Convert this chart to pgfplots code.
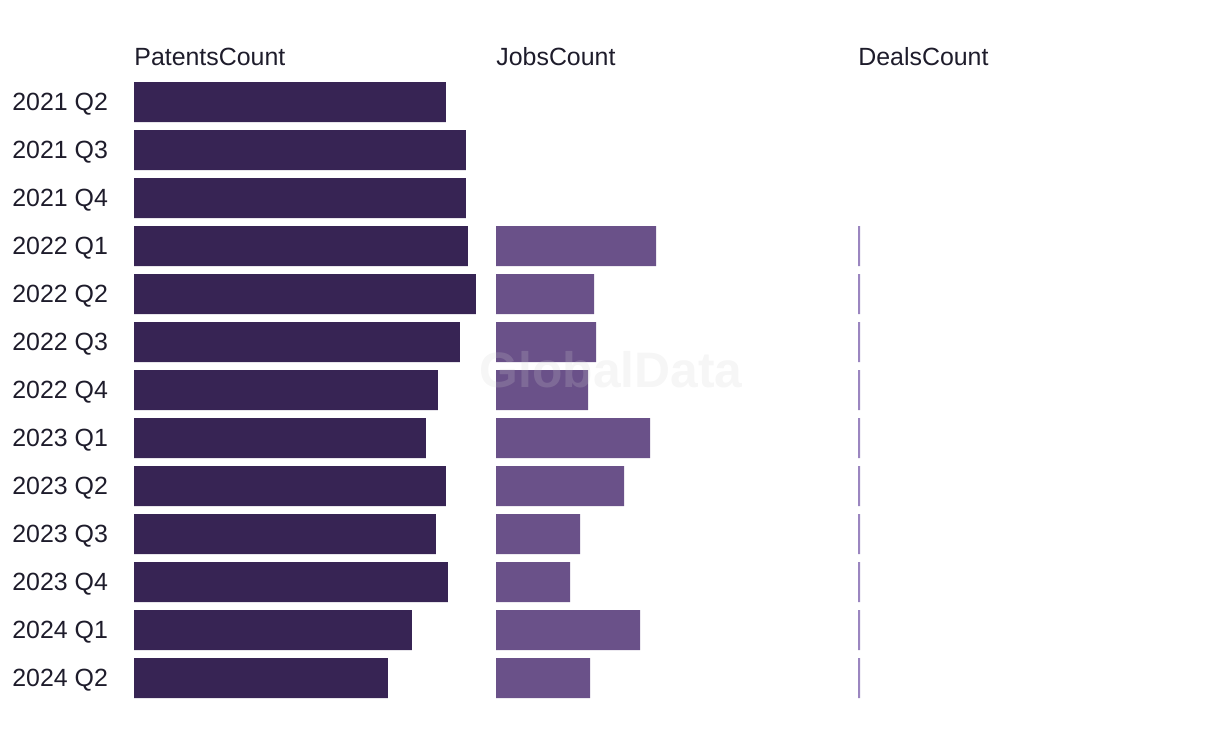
\documentclass[border=0pt]{standalone}
\usepackage{fontspec}
\setmainfont{Liberation Sans}
\usepackage{pgfplots}
\usepackage{pgfplotstable}
\pgfplotsset{compat=1.18}
\definecolor{pat}{HTML}{372454}
\definecolor{job}{HTML}{6A5189}
\definecolor{deal}{HTML}{9B86C0}
\definecolor{txt}{HTML}{1E1C2B}
\definecolor{wm}{HTML}{D0D0D0}

\pgfplotstableread{
q v
0 312
1 332
2 332
3 334
4 342
5 326
6 304
7 292
8 312
9 302
10 314
11 278
12 254
}\patents

\pgfplotstableread{
q v
3 160
4 98
5 100
6 92
7 154
8 128
9 84
10 74
11 144
12 94
}\jobs

\pgfplotstableread{
q v
3 2
4 2
5 2
6 2
7 2
8 2
9 2
10 2
11 2
12 2
}\deals

\pgfplotsset{panel/.style={
  xbar, bar width=20bp, bar shift=0pt,
  x=0.5bp, y=24bp, y dir=reverse,
  xmin=0, xmax=340, ymin=-0.5, ymax=12.5,
  clip=false,
  axis line style={draw=none},
  major tick length=0pt,
  xtick=\empty, ytick=\empty,
  anchor=north west,
  title style={at={(axis description cs:0,1)}, anchor=base west, yshift=0.5bp,
    inner sep=0pt, font=\fontsize{12.5}{15}\selectfont, text=txt},
}}

\begin{document}
\begin{tikzpicture}
\useasboundingbox (0,0) rectangle (610bp,-370bp);
\begin{axis}[panel, at={(67bp,-39bp)}, title={PatentsCount},
  ytick={0,...,12},
  yticklabels={2021 Q2,2021 Q3,2021 Q4,2022 Q1,2022 Q2,2022 Q3,2022 Q4,2023 Q1,2023 Q2,2023 Q3,2023 Q4,2024 Q1,2024 Q2},
  yticklabel style={anchor=base west, xshift=-61bp, yshift=-4bp, inner sep=0pt,
    font=\fontsize{12.5}{15}\selectfont, text=txt}]
\addplot[draw=none, fill=pat] table[x=v, y=q] {\patents};
\end{axis}
\begin{axis}[panel, at={(248bp,-39bp)}, title={JobsCount}]
\addplot[draw=none, fill=job] table[x=v, y=q] {\jobs};
\end{axis}
\begin{axis}[panel, at={(429bp,-39bp)}, title={DealsCount}]
\addplot[draw=none, fill=deal] table[x=v, y=q] {\deals};
\end{axis}
\node[text=wm, opacity=0.2, font=\fontsize{25}{30}\selectfont\bfseries] at (305.5bp,-185bp) {GlobalData};
\end{tikzpicture}
\end{document}
